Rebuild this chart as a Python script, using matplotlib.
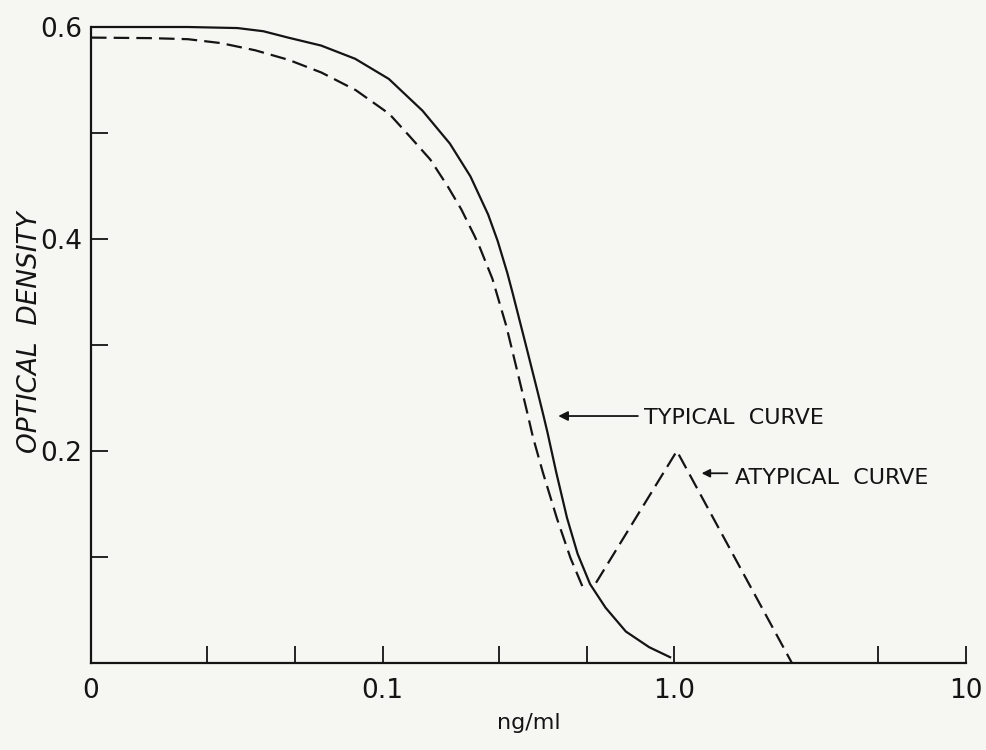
import matplotlib
matplotlib.use("Agg")
import matplotlib.pyplot as plt
from matplotlib.ticker import FixedLocator, FixedFormatter, NullFormatter

# ---- data ----
typical_x = [0.01, 0.015, 0.0215, 0.0318, 0.039, 0.0474, 0.0615, 0.0805, 0.105, 0.137,
             0.170, 0.200, 0.230, 0.248, 0.2675, 0.279, 0.311, 0.339, 0.354, 0.367,
             0.3935, 0.4285, 0.466, 0.514, 0.581, 0.682, 0.820, 0.975]
typical_y = [0.600, 0.600, 0.600, 0.599, 0.596, 0.590, 0.5825, 0.570, 0.551, 0.521,
             0.490, 0.459, 0.423, 0.398, 0.368, 0.349, 0.298, 0.257, 0.236, 0.218,
             0.180, 0.137, 0.103, 0.0745, 0.0522, 0.0297, 0.0149, 0.005]

typical_dash_x = [0.01, 0.016, 0.0215, 0.0279, 0.0366, 0.0476, 0.0617, 0.0809, 0.1054,
                  0.124, 0.1456, 0.167, 0.186, 0.2066, 0.2153, 0.2378, 0.2652, 0.289,
                  0.312, 0.3274, 0.354, 0.3956, 0.4406, 0.4865]
typical_dash_y = [0.590, 0.5895, 0.5885, 0.5848, 0.578, 0.569, 0.557, 0.5404, 0.518,
                  0.4966, 0.475, 0.4498, 0.428, 0.4028, 0.392, 0.3625, 0.3182, 0.276,
                  0.238, 0.2133, 0.1800, 0.1366, 0.099, 0.0708]

atypical_x = [0.539, 1.02, 2.53]
atypical_y = [0.0757, 0.20, 0.0]

x_major = [0.01, 0.1, 1.0, 10.0]
x_major_labels = ["0", "0.1", "1.0", "10"]
x_minor = [0.025, 0.05, 0.25, 0.5, 5.0]
y_major = [0.2, 0.4, 0.6]
y_major_labels = ["0.2", "0.4", "0.6"]
y_minor = [0.1, 0.3, 0.5]

ink = "#141414"
bg = "#f6f6f3"

fig = plt.figure(figsize=(9.87, 7.5), dpi=100, facecolor=bg)
ax = fig.add_axes([91 / 987, 1 - 663 / 750, (966 - 91) / 987, (663 - 27) / 750])
ax.set_facecolor(bg)

ax.set_xscale("log")
ax.set_xlim(0.01, 10)
ax.set_ylim(0, 0.6)

ax.plot(typical_x, typical_y, color=ink, lw=1.6, clip_on=False,
        solid_capstyle="butt", solid_joinstyle="round")
ax.plot(typical_dash_x, typical_dash_y, color=ink, lw=1.6, dashes=(7, 3.2), clip_on=False)
ax.plot(atypical_x, atypical_y, color=ink, lw=1.6, dashes=(7, 3.2), clip_on=False)

for s in ["top", "right"]:
    ax.spines[s].set_visible(False)
for s in ["left", "bottom"]:
    ax.spines[s].set_linewidth(1.6)
    ax.spines[s].set_color(ink)

ax.xaxis.set_major_locator(FixedLocator(x_major))
ax.xaxis.set_major_formatter(FixedFormatter(x_major_labels))
ax.xaxis.set_minor_locator(FixedLocator(x_minor))
ax.xaxis.set_minor_formatter(NullFormatter())
ax.yaxis.set_major_locator(FixedLocator(y_major))
ax.yaxis.set_major_formatter(FixedFormatter(y_major_labels))
ax.yaxis.set_minor_locator(FixedLocator(y_minor))
ax.yaxis.set_minor_formatter(NullFormatter())

ax.tick_params(axis="both", which="both", direction="in", length=12, width=1.3,
               color=ink, labelcolor=ink, labelsize=19)
ax.tick_params(axis="x", which="major", pad=11)
ax.tick_params(axis="y", which="major", pad=6)

ax.set_xlabel("ng/ml", fontsize=16, color=ink, labelpad=6)
fig.text(30 / 987, 1 - 332 / 750, "OPTICAL  DENSITY", fontsize=19, color=ink,
         style="italic", rotation=90, ha="center", va="center")

# annotations
ax.annotate("", xy=(0.40, 0.233), xytext=(0.75, 0.233),
            arrowprops=dict(arrowstyle="-|>", color=ink, lw=1.3, mutation_scale=14,
                            shrinkA=0, shrinkB=0))
ax.text(0.79, 0.231, "TYPICAL  CURVE", fontsize=16, color=ink, va="center", ha="left")

ax.annotate("", xy=(1.24, 0.179), xytext=(1.52, 0.179),
            arrowprops=dict(arrowstyle="-|>", color=ink, lw=1.3, mutation_scale=12,
                            shrinkA=0, shrinkB=0))
ax.text(1.62, 0.175, "ATYPICAL  CURVE", fontsize=16, color=ink, va="center", ha="left")

fig.savefig("out.png", dpi=100, facecolor=bg)
